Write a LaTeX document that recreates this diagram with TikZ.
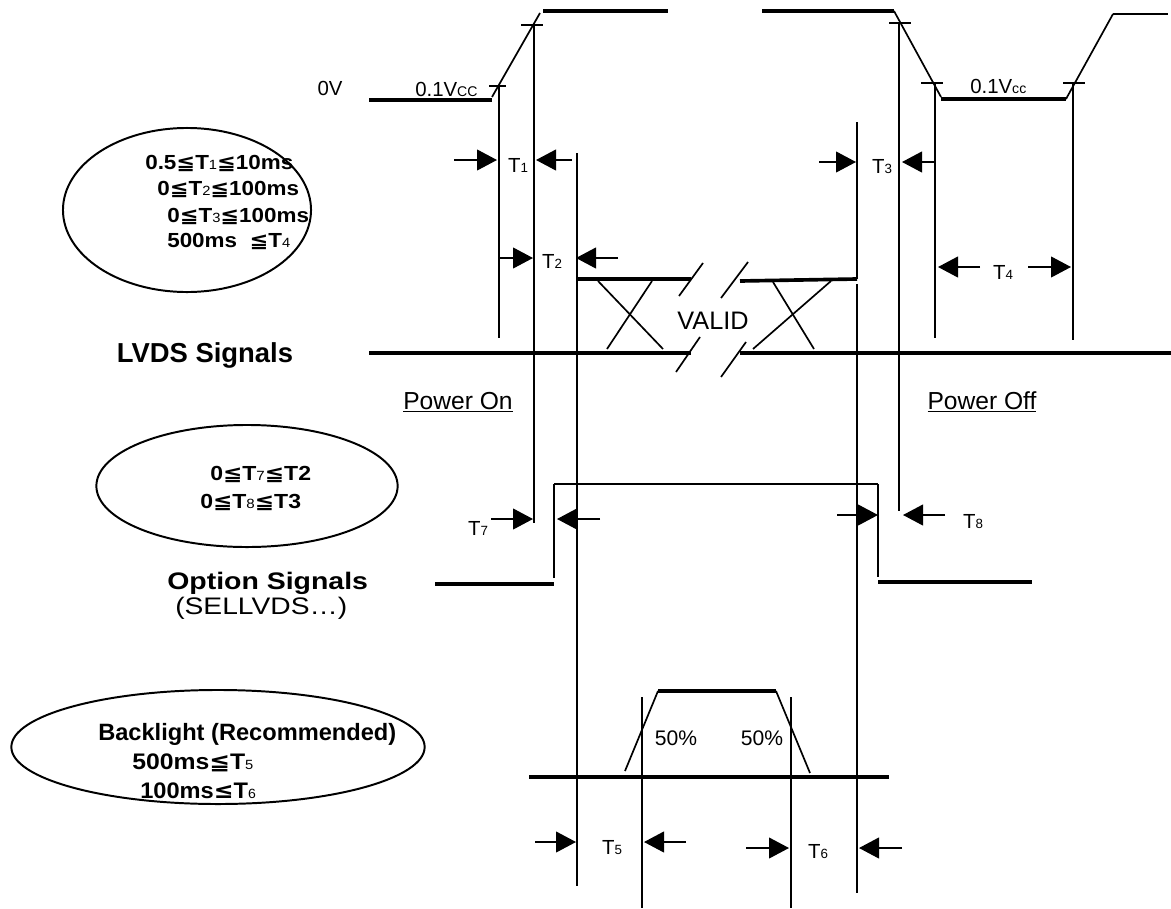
\documentclass[tikz,border=0pt]{standalone}
\usepackage{fontspec}
\setmainfont{Liberation Sans}
\newfontfamily\symfont{DejaVu Sans}
\usetikzlibrary{arrows.meta,shapes.geometric}

\newcommand\ix[1]{{\fontsize{9.5}{9.5}\selectfont\mdseries #1}}
\newcommand\lqq{{\symfont ≦}}
\newcommand\lqs{{\symfont ≤}}
\newcommand\wider[2][1.1]{\scalebox{#1}[1]{#2}}

\begin{document}
\begin{tikzpicture}[x=0.025cm, y=-0.025cm]

%% ── shared styles ─────────────────────────────────────────────────────────
\tikzset{
  wave/.style ={line width=2.6pt},
  guide/.style={line width=1.2pt},
  dimr/.style ={line width=1.2pt, -{Triangle[length=0.5cm, width=0.52cm]}},
  note/.style ={ellipse, draw, line width=1.4pt, inner sep=0pt},
  lbl/.style  ={inner sep=0pt, font=\fontsize{14.5}{14.5}\selectfont},
  rule/.style ={inner sep=0pt, anchor=base west,
                font=\fontsize{14.5}{17}\selectfont\bfseries},
  head/.style ={inner sep=0pt, font=\fontsize{19.5}{22}\selectfont\bfseries},
}

\useasboundingbox (0,0) rectangle (1171,908);

%% ── levels ───────────────────────────────────────────────────────────────
\def\yHi{11}
\def\yLo{100}
\def\yDa{279}
\def\yDb{353}

%% ══════════════════════════════════════════════════════════════════════════
%% POWER SUPPLY
%% ══════════════════════════════════════════════════════════════════════════
\draw[wave]  (369,\yLo) -- (492,\yLo);
\draw[guide] (492,97) -- (540,13);
\draw[wave]  (543,\yHi) -- (668,\yHi);
\draw[guide] (489,86) -- (506,86);
\draw[guide] (521,25) -- (543,25);

\draw[wave]  (762,\yHi) -- (894,\yHi);
\draw[guide] (894,\yHi) -- (941,97);
\draw[guide] (889,23) -- (911,23);
\draw[guide] (921,83) -- (943,83);
\draw[wave]  (941,99) -- (1066,99);
\draw[guide] (1066,99) -- (1113,14);
\draw[line width=1.6pt] (1113,14) -- (1168,14);
\draw[guide] (1063,83) -- (1085,83);

\node[lbl] (Lbl0V)  at (330,88) {0V};
\node[lbl, anchor=base west] (LblVccA) at (415,96)
  {0.1V{\fontsize{10}{10}\selectfont CC}};
\node[lbl, anchor=base west] (LblVccB) at (970,93)
  {0.1V{\fontsize{10}{10}\selectfont cc}};

%% ── reference lines ──────────────────────────────────────────────────────
\draw[guide] (499,86)  -- (499,338);
\draw[guide] (534,25)  -- (534,523);
\draw[guide] (577,153) -- (577,886);
\draw[guide] (857,122) -- (857,\yDa);
\draw[guide] (857,284) -- (857,893);
\draw[guide] (899,23)  -- (899,511);
\draw[guide] (935,83)  -- (935,338);
\draw[guide] (1073,83) -- (1073,340);
\draw[guide] (642,697) -- (642,908);
\draw[guide] (791,697) -- (791,908);

%% ══════════════════════════════════════════════════════════════════════════
%% LVDS SIGNALS
%% ══════════════════════════════════════════════════════════════════════════
\draw[wave]  (577,\yDa) -- (691,\yDa);
\draw[wave]  (740,281) -- (857,\yDa);
\draw[wave]  (369,\yDb) -- (691,\yDb);
\draw[wave]  (740,\yDb) -- (1171,\yDb);

\draw[guide] (598,281) -- (663,349);
\draw[guide] (652,281) -- (607,349);
\draw[guide] (773,282) -- (814,349);
\draw[guide] (831,281) -- (753,349);

% break marks
\draw[guide] (679,296) -- (703,263);
\draw[guide] (721,298) -- (748,262);
\draw[guide] (676,372) -- (700,337);
\draw[guide] (721,377) -- (746,342);

\node[lbl, font=\fontsize{18}{18}\selectfont] (LblValid) at (713,321) {VALID};
\node[head] (LblLVDS) at (205,355) {LVDS Signals};
\node[lbl, font=\fontsize{17.5}{17.5}\selectfont] (LblOn)  at (458,402) {\underline{Power On}};
\node[lbl, font=\fontsize{17.5}{17.5}\selectfont] (LblOff) at (982,402) {\underline{Power Off}};

%% ── T1 .. T4 ─────────────────────────────────────────────────────────────
\draw[dimr] (454,160) -- (497,160);
\draw[dimr] (572,160) -- (536,160);
\node[lbl] (LblT1) at (518,165) {T\ix{1}};

\draw[dimr] (500,258) -- (533,258);
\draw[dimr] (618,258) -- (576,258);
\node[lbl] (LblT2) at (552,261) {T\ix{2}};

\draw[dimr] (819,162) -- (856,162);
\draw[dimr] (935,162) -- (902,162);
\node[lbl] (LblT3) at (882,167) {T\ix{3}};

\draw[dimr] (980,267) -- (938,267);
\draw[dimr] (1028,267) -- (1071,267);
\node[lbl] (LblT4) at (1003,272) {T\ix{4}};

%% ══════════════════════════════════════════════════════════════════════════
%% OPTION SIGNALS
%% ══════════════════════════════════════════════════════════════════════════
\draw[wave]  (435,584) -- (554,584);
\draw[guide] (554,578) -- (554,484);
\draw[line width=2pt] (554,484) -- (878,484);
\draw[guide] (878,484) -- (878,577);
\draw[wave]  (878,582) -- (1032,582);

\draw[dimr] (491,519) -- (533,519);
\draw[dimr] (600,519) -- (557,519);
\node[lbl] (LblT7) at (478,528) {T\ix{7}};

\draw[dimr] (837,515) -- (878,515);
\draw[dimr] (945,515) -- (903,515);
\node[lbl] (LblT8) at (973,522) {T\ix{8}};

\node[head, anchor=west, font=\fontsize{17}{17}\selectfont\bfseries] (LblOpt) at (167,583)
  {\wider[1.19]{Option Signals}};
\node[lbl, anchor=west, font=\fontsize{17}{17}\selectfont] (LblSel) at (175,608)
  {\wider[1.18]{(SELLVDS…)}};

%% ══════════════════════════════════════════════════════════════════════════
%% BACKLIGHT
%% ══════════════════════════════════════════════════════════════════════════
\draw[wave]  (529,777) -- (889,777);
\draw[guide] (625,771) -- (658,691);
\draw[wave]  (658,691) -- (776,691);
\draw[guide] (776,691) -- (810,773);

\node[lbl, font=\fontsize{15}{15}\selectfont] (LblHalfA) at (676,738) {50\%};
\node[lbl, font=\fontsize{15}{15}\selectfont] (LblHalfB) at (762,738) {50\%};

\draw[dimr] (535,842) -- (576,842);
\draw[dimr] (686,842) -- (644,842);
\node[lbl] (LblT5) at (612,848) {T\ix{5}};

\draw[dimr] (746,848) -- (789,848);
\draw[dimr] (902,848) -- (859,848);
\node[lbl] (LblT6) at (818,852) {T\ix{6}};

%% ══════════════════════════════════════════════════════════════════════════
%% TIMING NOTES
%% ══════════════════════════════════════════════════════════════════════════
\node[note, minimum width=6.2cm, minimum height=4.1cm] (NoteA) at (187,210) {};
\node[rule] (NoteA1) at (145,169) {\wider{0.5\lqq T\ix{1}\lqq 10ms}};
\node[rule] (NoteA2) at (157,195) {\wider{0\lqq T\ix{2}\lqq 100ms}};
\node[rule] (NoteA3) at (167,222) {\wider{0\lqq T\ix{3}\lqq 100ms}};
\node[rule] (NoteA4) at (167,247) {\wider{500ms\ \ \lqq T\ix{4}}};

\node[note, minimum width=7.53cm, minimum height=3.05cm] (NoteB) at (247,486) {};
\node[rule] (NoteB1) at (210,480) {\wider[1.13]{0\lqq T\ix{7}\lqq T2}};
\node[rule] (NoteB2) at (200,508) {\wider[1.13]{0\lqq T\ix{8}\lqq T3}};

\node[note, minimum width=10.33cm, minimum height=2.85cm] (NoteC) at (218,747) {};
\node[rule, font=\fontsize{16.8}{16.8}\selectfont\bfseries] (NoteC1) at (98,740)
  {Backlight (Recommended)};
\node[rule, font=\fontsize{16}{16}\selectfont\bfseries] (NoteC2) at (132,769)
  {\wider[1.1]{500ms\lqq T\ix{5}}};
\node[rule, font=\fontsize{16}{16}\selectfont\bfseries] (NoteC3) at (140,798)
  {\wider[1.05]{100ms\lqs T\ix{6}}};

\end{tikzpicture}
\end{document}
